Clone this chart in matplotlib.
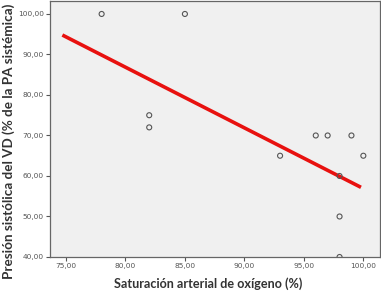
import matplotlib.pyplot as plt
from matplotlib.ticker import FuncFormatter

# Data
sat_o2 = [78, 85, 82, 82, 93, 96, 97, 99, 100, 98, 98, 98]
psvd = [100, 100, 75, 72, 65, 70, 70, 70, 65, 60, 50, 40]

# Fit line end points
fit_x = [74.7, 99.8]
fit_y = [94.8, 57.2]

xticks = [75, 80, 85, 90, 95, 100]
yticks = [40, 50, 60, 70, 80, 90, 100]

fig = plt.figure(figsize=(3.81, 2.92), dpi=100)
ax = fig.add_axes([50 / 381, 35 / 292, 330 / 381, 256 / 292])
ax.set_facecolor('#f0f0f0')

ax.plot(fit_x, fit_y, color='#e8110f', linewidth=2.6, solid_capstyle='butt', zorder=2)
ax.scatter(sat_o2, psvd, s=13, facecolors='none', edgecolors='#555555',
           linewidths=0.8, zorder=3, clip_on=True)

ax.set_xlim(73.66, 101.4)
ax.set_ylim(40, 103.2)
ax.set_xticks(xticks)
ax.set_yticks(yticks)
fmt = FuncFormatter(lambda v, p: f'{v:.2f}'.replace('.', ','))
ax.xaxis.set_major_formatter(fmt)
ax.yaxis.set_major_formatter(fmt)
ax.tick_params(labelsize=5.3, labelcolor='#555555', color='#555555',
               length=3, width=0.8, pad=1.5)

for side in ['left', 'bottom', 'top', 'right']:
    ax.spines[side].set_color('#666666')
    ax.spines[side].set_linewidth(0.9)

fig.text(208 / 381, 1 - 284 / 292, 'Saturación arterial de oxígeno (%)',
         fontsize=9.1, fontweight='bold', color='#333333', family='Lato',
         ha='center', va='center')
fig.text(9 / 381, 1 - 141 / 292, 'Presión sistólica del VD (% de la PA sistémica)',
         fontsize=9.7, fontweight='bold', color='#333333', family='Lato',
         ha='center', va='center', rotation=90)

fig.savefig('out.png', dpi=100)
plt.close()
